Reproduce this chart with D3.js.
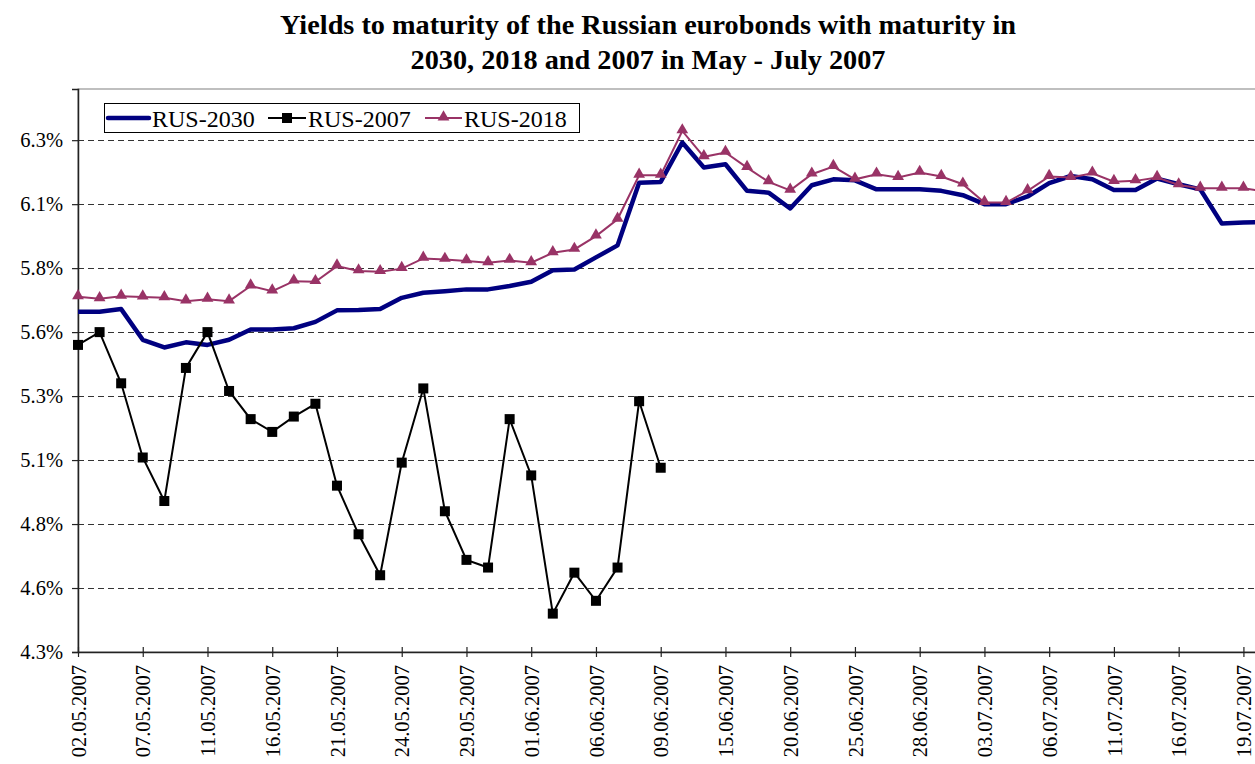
<!DOCTYPE html>
<html>
<head>
<meta charset="utf-8">
<script src="https://cdn.jsdelivr.net/npm/d3@7"></script>
<style>
  html, body { margin: 0; padding: 0; background: #fff; }
  svg { display: block; overflow: hidden; }
  svg text { font-family: "Liberation Serif", "Times New Roman", serif !important; fill: #000; }
</style>
</head>
<body>
<svg id="chart" width="1255" height="764"></svg>
<script>
// Trading days, May - July 2007
const dates = [
  "02.05.2007","03.05.2007","04.05.2007","07.05.2007","08.05.2007","10.05.2007","11.05.2007",
  "14.05.2007","15.05.2007","16.05.2007","17.05.2007","18.05.2007","21.05.2007","22.05.2007",
  "23.05.2007","24.05.2007","25.05.2007","28.05.2007","29.05.2007","30.05.2007","31.05.2007",
  "01.06.2007","04.06.2007","05.06.2007","06.06.2007","07.06.2007","08.06.2007","09.06.2007",
  "13.06.2007","14.06.2007","15.06.2007","18.06.2007","19.06.2007","20.06.2007","21.06.2007",
  "22.06.2007","25.06.2007","26.06.2007","27.06.2007","28.06.2007","29.06.2007","02.07.2007",
  "03.07.2007","04.07.2007","05.07.2007","06.07.2007","09.07.2007","10.07.2007","11.07.2007",
  "12.07.2007","13.07.2007","16.07.2007","17.07.2007","18.07.2007","19.07.2007","20.07.2007"
];

// Yields, %
const rus2030 = [
  5.63, 5.63, 5.64, 5.52, 5.49, 5.51, 5.50, 5.52, 5.56, 5.56, 5.565, 5.59, 5.635, 5.636,
  5.64, 5.684, 5.704, 5.71, 5.717, 5.717, 5.73, 5.747, 5.792, 5.795, 5.842, 5.889, 6.134, 6.137,
  6.291, 6.193, 6.206, 6.102, 6.095, 6.033, 6.124, 6.147, 6.143, 6.108, 6.108, 6.108, 6.102, 6.085,
  6.05, 6.05, 6.08, 6.132, 6.16, 6.147, 6.105, 6.105, 6.15, 6.128, 6.108, 5.974, 5.978, 5.98
];

const rus2007 = [
  5.50, 5.55, 5.35, 5.06, 4.89, 5.41, 5.55, 5.32, 5.21, 5.16, 5.22, 5.27, 4.95, 4.76,
  4.60, 5.04, 5.33, 4.85, 4.66, 4.63, 5.21, 4.99, 4.45, 4.61, 4.50, 4.63, 5.28, 5.02
];

const rus2018 = [
  5.688, 5.68, 5.69, 5.687, 5.684, 5.671, 5.678, 5.671, 5.73, 5.71, 5.749, 5.747, 5.808, 5.789,
  5.786, 5.798, 5.838, 5.834, 5.828, 5.821, 5.83, 5.821, 5.86, 5.873, 5.925, 5.991, 6.163, 6.163,
  6.336, 6.235, 6.252, 6.193, 6.137, 6.104, 6.167, 6.197, 6.147, 6.167, 6.154, 6.174, 6.158, 6.128,
  6.056, 6.056, 6.102, 6.158, 6.154, 6.171, 6.138, 6.141, 6.154, 6.125, 6.112, 6.112, 6.112, 6.099
];

const yTickValues = [4.3, 4.55, 4.8, 5.05, 5.3, 5.55, 5.8, 6.05, 6.3];
const yTickLabels = ["4.3%", "4.6%", "4.8%", "5.1%", "5.3%", "5.6%", "5.8%", "6.1%", "6.3%"];

const titleLines = [
  "Yields to maturity of the Russian eurobonds with maturity in",
  "2030, 2018 and 2007 in May - July 2007"
];

const seriesNames = ["RUS-2030", "RUS-2007", "RUS-2018"];

// ---- layout ----
const svg = d3.select("#chart");
const plot = { left: 78, top: 89, bottom: 652, right: 1265 };
const serif = "'Liberation Serif', 'Times New Roman', serif";

const x = d3.scalePoint().domain(dates).range([plot.left, plot.right]).padding(0);
const y = d3.scaleLinear().domain([4.3, 6.5]).range([plot.bottom, plot.top]);

// Title
const titleWidths = [736, 475];
titleLines.forEach((t, i) => {
  svg.append("text")
    .attr("x", 648)
    .attr("y", 34 + i * 35)
    .attr("text-anchor", "middle")
    .style("font-family", serif)
    .attr("font-size", 27)
    .attr("font-weight", "bold")
    .attr("textLength", titleWidths[i])
    .attr("lengthAdjust", "spacingAndGlyphs")
    .text(t);
});

// Plot frame
svg.append("rect")
  .attr("x", plot.left).attr("y", plot.top)
  .attr("width", plot.right - plot.left).attr("height", plot.bottom - plot.top)
  .attr("fill", "none").attr("stroke", "#808080").attr("stroke-width", 1);

// Gridlines
svg.append("g")
  .selectAll("line")
  .data(yTickValues.filter(v => v > 4.3))
  .join("line")
  .attr("x1", plot.left).attr("x2", plot.right)
  .attr("y1", d => Math.round(y(d)) + 0.5).attr("y2", d => Math.round(y(d)) + 0.5)
  .attr("stroke", "#333").attr("stroke-width", 1)
  .attr("stroke-dasharray", "6,4");

// Y axis
const yAxis = svg.append("g")
  .attr("transform", `translate(${plot.left},0)`)
  .call(d3.axisLeft(y)
    .tickValues(yTickValues)
    .tickSize(6)
    .tickPadding(9)
    .tickFormat((d, i) => yTickLabels[i]));
yAxis.attr("font-family", null);
yAxis.select(".domain").attr("stroke", "#222").attr("stroke-width", 1.5);
yAxis.selectAll(".tick line").attr("stroke", "#222").attr("stroke-width", 1.2);
yAxis.selectAll(".tick text")
  .style("font-family", serif)
  .attr("font-size", 20.5).attr("fill", "#000");

// X axis
const xTicks = dates.filter((d, i) => i % 3 === 0);
const xAxis = svg.append("g")
  .attr("transform", `translate(0,${plot.bottom})`)
  .call(d3.axisBottom(x).tickValues(xTicks).tickSize(5).tickSizeOuter(0));
xAxis.attr("font-family", null);
xAxis.select(".domain").attr("stroke", "#222").attr("stroke-width", 1.5);
xAxis.selectAll(".tick line").attr("y1", -5).attr("y2", 5)
  .attr("stroke", "#222").attr("stroke-width", 1.2);
xAxis.selectAll(".tick text")
  .style("font-family", serif)
  .attr("font-size", 20.5).attr("fill", "#000")
  .attr("transform", "rotate(-90)")
  .attr("text-anchor", "end")
  .attr("x", -13).attr("y", 0).attr("dy", "0.35em");

// Series
const line = d3.line().x((d, i) => x(dates[i])).y(d => y(d));

svg.append("path").datum(rus2030)
  .attr("d", line).attr("fill", "none")
  .attr("stroke", "#000080").attr("stroke-width", 4.5)
  .attr("stroke-linejoin", "round");

svg.append("path").datum(rus2018)
  .attr("d", line).attr("fill", "none")
  .attr("stroke", "#993366").attr("stroke-width", 2);

const tri = d3.symbol().type(d3.symbolTriangle).size(60);
svg.append("g").selectAll("path")
  .data(rus2018)
  .join("path")
  .attr("d", tri)
  .attr("transform", (d, i) => `translate(${x(dates[i])},${y(d) - 1})`)
  .attr("fill", "#993366");

svg.append("path").datum(rus2007)
  .attr("d", line).attr("fill", "none")
  .attr("stroke", "#000").attr("stroke-width", 2);

svg.append("g").selectAll("rect")
  .data(rus2007)
  .join("rect")
  .attr("x", (d, i) => x(dates[i]) - 5)
  .attr("y", d => y(d) - 5)
  .attr("width", 10).attr("height", 10)
  .attr("fill", "#000");

// Legend
const legend = svg.append("g");
legend.append("rect")
  .attr("x", 104.5).attr("y", 103.5).attr("width", 475).attr("height", 29)
  .attr("fill", "#fff").attr("stroke", "#000").attr("stroke-width", 1);

const legendItems = [
  { name: seriesNames[0], x0: 108, x1: 149, tx: 152, color: "#000080", w: 4.5, marker: null },
  { name: seriesNames[1], x0: 268, x1: 306, tx: 308, color: "#000", w: 2, marker: "square" },
  { name: seriesNames[2], x0: 425, x1: 462, tx: 464, color: "#993366", w: 2, marker: "triangle" }
];
const ly = 118;
legendItems.forEach(it => {
  legend.append("line")
    .attr("x1", it.x0).attr("x2", it.x1).attr("y1", ly).attr("y2", ly)
    .attr("stroke", it.color).attr("stroke-width", it.w)
    .attr("stroke-linecap", it.marker ? "butt" : "round");
  const cx = (it.x0 + it.x1) / 2;
  if (it.marker === "square") {
    legend.append("rect").attr("x", cx - 5).attr("y", ly - 5)
      .attr("width", 10).attr("height", 10).attr("fill", it.color);
  } else if (it.marker === "triangle") {
    legend.append("path").attr("d", tri)
      .attr("transform", `translate(${cx},${ly - 1})`).attr("fill", it.color);
  }
  legend.append("text")
    .attr("x", it.tx).attr("y", ly + 8.5)
    .style("font-family", serif)
    .attr("font-size", 24)
    .text(it.name);
});
</script>
</body>
</html>
